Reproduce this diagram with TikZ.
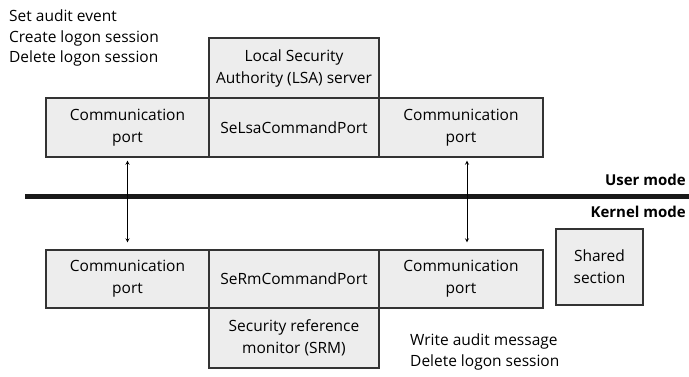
\documentclass[tikz,border=0pt]{standalone}
\usepackage{fontspec}
\setmainfont{Open Sans}
\begin{document}
\begin{tikzpicture}[x=1pt,y=-1pt,
    box/.style={draw=black!80, line width=1.3pt, fill=black!7, align=center,
      inner sep=0pt, font=\fontsize{15.5}{22}\selectfont},
    note/.style={align=left, anchor=north west, inner sep=0pt,
      font=\fontsize{15.5}{20.5}\selectfont},
    mode/.style={anchor=east, inner sep=0pt, font=\fontsize{15}{16}\selectfont\bfseries},
    port/.style={<->, >=stealth, line width=0.8pt}]
  \useasboundingbox (0,0) rectangle (689,376);
  % user mode
  \node[box, minimum width=170pt, minimum height=60pt] (lsa) at (294,68) {Local Security\\Authority (LSA) server};
  \node[box, minimum width=163pt, minimum height=59pt] (commL) at (127.5,127.5) {Communication\\port};
  \node[box, minimum width=170pt, minimum height=59pt] (lsaport) at (294,127.5) {SeLsaCommandPort};
  \node[box, minimum width=164pt, minimum height=59pt] (commR) at (461,127.5) {Communication\\port};
  \node[note] (lsacalls) at (9,10) {Set audit event\\Create logon session\\Delete logon session};
  % mode boundary
  \coordinate (barL) at (25,196.5); \coordinate (barR) at (689,196.5);
  \draw[line width=5.5pt, black!90] (barL) -- (barR);
  \node[mode] (user) at (686,180) {User mode};
  \node[mode] (kernel) at (686,212) {Kernel mode};
  % kernel mode
  \node[box, minimum width=163pt, minimum height=58pt] (kcommL) at (127.5,279) {Communication\\port};
  \node[box, minimum width=170pt, minimum height=58pt] (rmport) at (294,279) {SeRmCommandPort};
  \node[box, minimum width=164pt, minimum height=58pt] (kcommR) at (461,279) {Communication\\port};
  \node[box, minimum width=170pt, minimum height=60pt] (srm) at (294,338) {Security reference\\monitor (SRM)};
  \node[box, minimum width=87pt, minimum height=76pt] (shared) at (599.5,267) {Shared\\section};
  \node[note] (srmcalls) at (410,334) {Write audit message\\Delete logon session};
  % connections
  \draw[port, shorten <=3pt, shorten >=7pt] (commL) -- (kcommL);
  \draw[port, shorten <=3pt, shorten >=7pt] ([xshift=6pt]commR.south) -- ([xshift=6pt]kcommR.north);
\end{tikzpicture}
\end{document}
